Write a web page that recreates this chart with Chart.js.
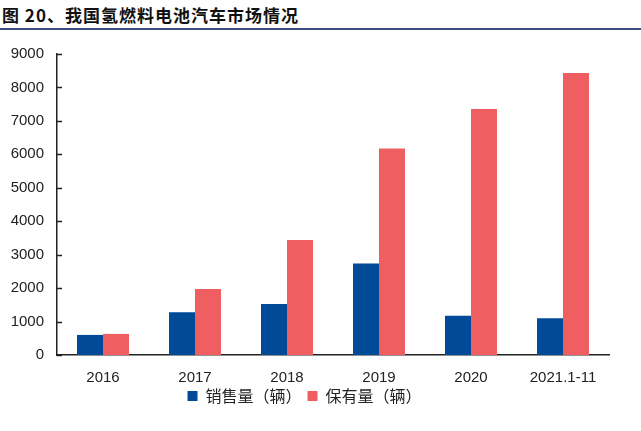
<!DOCTYPE html>
<html>
<head>
<meta charset="utf-8">
<script src="https://cdn.jsdelivr.net/npm/chart.js@4.4.0/dist/chart.umd.min.js"></script>
<style>
  body { margin: 0; background: #fff; }
  #title {
    position: absolute; left: 2px; top: 2px;
    font: bold 17px "Noto Sans CJK SC", sans-serif; color: #111;
    letter-spacing: 1px;
  }
  #rule { position: absolute; left: 0; top: 28px; width: 641px; height: 2px; background: #3f4c80; }
  #wrap { position: absolute; left: 0; top: 32px; width: 641px; height: 399px; }
</style>
</head>
<body>
<div id="title">图 20、我国氢燃料电池汽车市场情况</div>
<div id="rule"></div>
<div id="wrap"><canvas id="c"></canvas></div>
<script>
// categories and values
const years = ['2016', '2017', '2018', '2019', '2020', '2021.1-11'];
const sales = [600, 1275, 1527, 2737, 1177, 1100];
const stock = [630, 1977, 3438, 6175, 7352, 8430];
const yTicks = [0, 1000, 2000, 3000, 4000, 5000, 6000, 7000, 8000, 9000];

// small inward tick marks on the y axis
const innerTicks = {
  id: 'innerTicks',
  afterDraw(chart) {
    const y = chart.scales.y;
    const ctx = chart.ctx;
    ctx.save();
    ctx.strokeStyle = '#222';
    ctx.lineWidth = 1.5;
    y.ticks.forEach(t => {
      const py = Math.round(y.getPixelForValue(t.value)) + 0.5;
      ctx.beginPath();
      ctx.moveTo(y.right, py);
      ctx.lineTo(y.right + 5, py);
      ctx.stroke();
    });
    ctx.restore();
  }
};

new Chart(document.getElementById('c'), {
  type: 'bar',
  data: {
    labels: years,
    datasets: [
      { label: '销售量（辆）', data: sales, backgroundColor: '#004a98' },
      { label: '保有量（辆）', data: stock, backgroundColor: '#ef5f61' }
    ]
  },
  options: {
    responsive: true,
    maintainAspectRatio: false,
    animation: false,
    layout: { padding: { top: 12, right: 32, bottom: 17, left: 0 } },
    datasets: { bar: { barPercentage: 1, categoryPercentage: 0.565 } },
    plugins: {
      legend: {
        position: 'bottom',
        labels: {
          boxWidth: 10, boxHeight: 10, padding: 6,
          color: '#222',
          font: { family: '"Noto Sans CJK SC", sans-serif', size: 16 }
        }
      },
      tooltip: { enabled: false }
    },
    scales: {
      x: {
        grid: { display: false, drawTicks: false },
        border: { color: '#222', width: 1.5 },
        ticks: { color: '#222', padding: 14, font: { family: '"Liberation Sans", Arial', size: 15 } },
        afterFit(s) { s.height = 27; }
      },
      y: {
        min: 0, max: 9000,
        afterBuildTicks(s) { s.ticks = yTicks.map(v => ({ value: v })); },
        grid: { display: false, drawTicks: false },
        border: { color: '#222', width: 1.5 },
        ticks: {
          color: '#222', padding: 13,
          font: { family: '"Liberation Sans", Arial', size: 15 },
          callback: v => String(v)
        },
        afterFit(s) { s.width = 57; }
      }
    }
  },
  plugins: [innerTicks]
});
</script>
</body>
</html>
